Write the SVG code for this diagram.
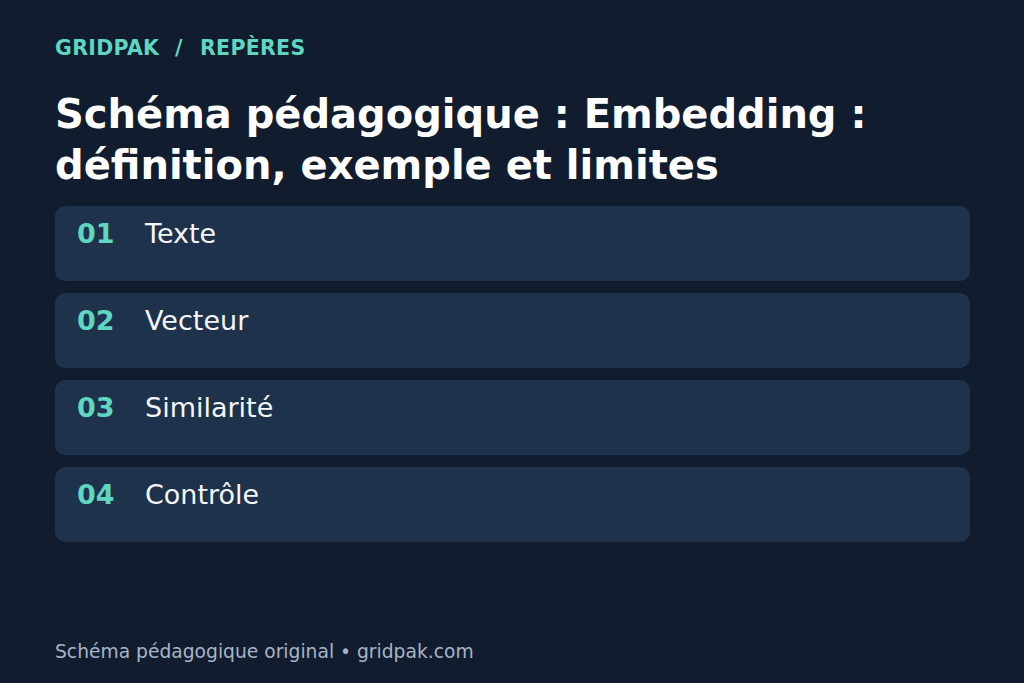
<svg xmlns="http://www.w3.org/2000/svg" width="1024" height="683" viewBox="0 0 1024 683">
<style>
.bg{fill:#111c2f}
.card{fill:#1f324b}
.kicker{font-family:"DejaVu Sans",sans-serif;font-weight:bold;font-size:20.5px;fill:#5ed6c1;letter-spacing:0.3px}
.title{font-family:"DejaVu Sans",sans-serif;font-weight:bold;font-size:40px;fill:#ffffff}
.num{font-family:"DejaVu Sans",sans-serif;font-weight:bold;font-size:27px;fill:#5ed6c1}
.lbl{font-family:"DejaVu Sans",sans-serif;font-size:27px;fill:#f4f6f9}
.foot{font-family:"DejaVu Sans",sans-serif;font-size:18.7px;fill:#a7b4c6}
</style>
<rect class="bg" x="0" y="0" width="1024" height="683"/>
<text class="kicker" x="55" y="55">GRIDPAK</text>
<text class="kicker" x="175" y="55">/</text>
<text class="kicker" x="200" y="55">REPÈRES</text>
<text class="title" x="55" y="128">Schéma pédagogique : Embedding :</text>
<text class="title" x="55" y="179">définition, exemple et limites</text>
<g id="node-01"><rect class="card" x="55" y="206" width="915" height="75" rx="10"/><text class="num" x="77" y="243">01</text><text class="lbl" x="145" y="243">Texte</text></g>
<g id="node-02"><rect class="card" x="55" y="293" width="915" height="75" rx="10"/><text class="num" x="77" y="330">02</text><text class="lbl" x="145" y="330">Vecteur</text></g>
<g id="node-03"><rect class="card" x="55" y="380" width="915" height="75" rx="10"/><text class="num" x="77" y="417">03</text><text class="lbl" x="145" y="417">Similarité</text></g>
<g id="node-04"><rect class="card" x="55" y="467" width="915" height="75" rx="10"/><text class="num" x="77" y="504">04</text><text class="lbl" x="145" y="504">Contrôle</text></g>
<g id="connectors"></g>
<text class="foot" x="55" y="658">Schéma pédagogique original • gridpak.com</text>
</svg>
